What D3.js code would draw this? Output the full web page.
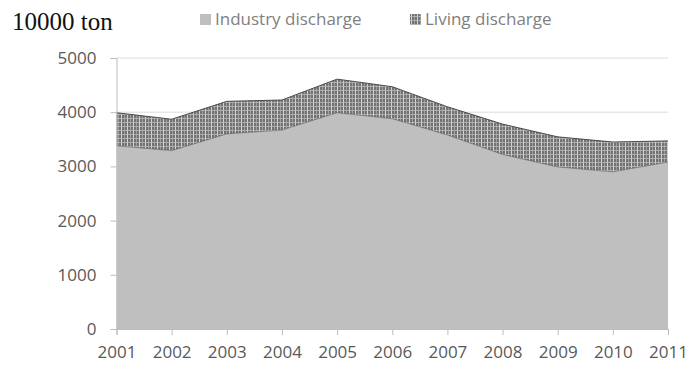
<!DOCTYPE html>
<html>
<head>
<meta charset="utf-8">
<script src="https://cdn.jsdelivr.net/npm/d3@7"></script>
<style>
  html, body { margin: 0; padding: 0; background: #fff; }
  svg { display: block; }
</style>
</head>
<body>
<svg id="chart" width="689" height="366"></svg>
<script>
// Wastewater discharge by source, 10000 ton
const years = [2001, 2002, 2003, 2004, 2005, 2006, 2007, 2008, 2009, 2010, 2011];
const industryDischarge = [3380, 3290, 3600, 3670, 3990, 3880, 3580, 3220, 2990, 2900, 3080];
const livingDischarge = [610, 580, 600, 555, 620, 590, 520, 560, 555, 550, 390];
const yTicks = [0, 1000, 2000, 3000, 4000, 5000];
const seriesNames = ["Industry discharge", "Living discharge"];

const svg = d3.select("#chart");
const plot = { left: 116.5, right: 668, top: 58, bottom: 329 };

const x = d3.scaleLinear().domain([2001, 2011]).range([plot.left, plot.right]);
const y = d3.scaleLinear().domain([0, 5000]).range([plot.bottom, plot.top]);

// cross-hatch fill for the living series
const defs = svg.append("defs");
const pat = defs.append("pattern")
  .attr("id", "hatch").attr("patternUnits", "userSpaceOnUse")
  .attr("width", 6).attr("height", 4);
pat.append("rect").attr("width", 6).attr("height", 4).attr("fill", "#737373");
pat.append("rect").attr("x", 1).attr("width", 1).attr("height", 4).attr("fill", "#d4d4d4");
pat.append("rect").attr("x", 4).attr("width", 0.7).attr("height", 4).attr("fill", "#b0b0b0");
pat.append("rect").attr("y", 2).attr("width", 6).attr("height", 0.8).attr("fill", "#bcbcbc");

// gridlines
svg.append("g").selectAll("line").data(yTicks.filter(d => d > 0)).join("line")
  .attr("x1", plot.left).attr("x2", plot.right)
  .attr("y1", d => y(d)).attr("y2", d => y(d))
  .attr("stroke", "#dcdcdc").attr("stroke-width", 1);

// stacked areas
const rows = years.map((yr, i) => ({ year: yr, industry: industryDischarge[i], living: livingDischarge[i] }));
const stacked = d3.stack().keys(["industry", "living"])(rows);
const area = d3.area()
  .x(d => x(d.data.year))
  .y0(d => y(d[0]))
  .y1(d => y(d[1]));
const fills = ["#bfbfbf", "url(#hatch)"];
svg.append("g").selectAll("path").data(stacked).join("path")
  .attr("d", area)
  .attr("fill", (d, i) => fills[i]);

// dark edges on the hatched band
const edge = d3.line().x(d => x(d.data.year)).y(d => y(d[1]));
svg.append("path").datum(stacked[1]).attr("d", edge)
  .attr("fill", "none").attr("stroke", "#4a4a4a").attr("stroke-width", 1);
svg.append("path").datum(stacked[0]).attr("d", edge)
  .attr("fill", "none").attr("stroke", "#555").attr("stroke-width", 0.8).attr("stroke-opacity", 0.7);

// axes
const axisColor = "#bdbdbd";
const yAxis = svg.append("g").attr("transform", `translate(${plot.left},0)`)
  .call(d3.axisLeft(y).tickValues(yTicks).tickSize(6).tickPadding(14).tickFormat(d3.format("d")));
const xAxis = svg.append("g").attr("transform", `translate(0,${plot.bottom})`)
  .call(d3.axisBottom(x).tickValues(years).tickSize(6).tickPadding(11).tickFormat(d3.format("d")));
[yAxis, xAxis].forEach(g => {
  g.select(".domain").attr("stroke", axisColor);
  g.selectAll(".tick line").attr("stroke", axisColor);
  g.selectAll("text").attr("fill", "#595959")
    .style("font-family", "'Open Sans', sans-serif").style("font-size", "17px");
});

// unit label
svg.append("text").attr("x", 12).attr("y", 30)
  .style("font-family", "'Liberation Serif', 'Times New Roman', serif")
  .style("font-size", "25px").attr("fill", "#111")
  .text("10000 ton");

// legend
const legendX = [200, 410];
const legend = svg.append("g").selectAll("g").data(seriesNames).join("g")
  .attr("transform", (d, i) => `translate(${legendX[i]},14)`);
legend.append("rect").attr("width", 11).attr("height", 11)
  .attr("fill", (d, i) => fills[i]);
legend.append("text").attr("x", 15).attr("y", 11)
  .style("font-family", "'Open Sans', sans-serif").style("font-size", "17px")
  .attr("fill", "#808080")
  .text(d => d);
</script>
</body>
</html>
